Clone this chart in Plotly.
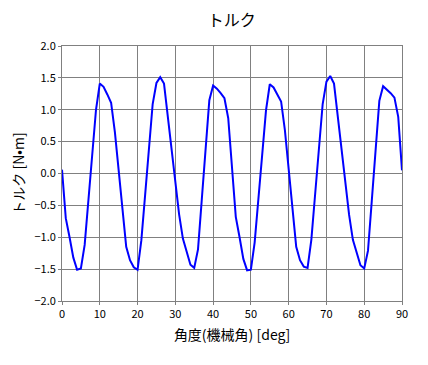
import plotly.graph_objects as go

angle_deg = list(range(0, 91))
torque = [
    0.06, -0.70, -1.00, -1.32, -1.51, -1.49, -1.12, -0.42, 0.29, 1.00,
    1.41, 1.36, 1.24, 1.11, 0.65, 0.05, -0.56, -1.15, -1.36, -1.47,
    -1.51, -1.05, -0.34, 0.37, 1.09, 1.42, 1.51, 1.41, 0.92, 0.40,
    -0.12, -0.64, -1.02, -1.23, -1.43, -1.48, -1.19, -0.41, 0.37, 1.15,
    1.38, 1.33, 1.26, 1.18, 0.87, 0.08, -0.68, -1.00, -1.34, -1.52,
    -1.51, -1.08, -0.39, 0.30, 0.99, 1.40, 1.35, 1.24, 1.13, 0.68,
    0.08, -0.55, -1.15, -1.36, -1.46, -1.48, -1.04, -0.33, 0.38, 1.09,
    1.44, 1.53, 1.41, 0.90, 0.38, -0.14, -0.65, -1.04, -1.24, -1.44,
    -1.49, -1.21, -0.43, 0.36, 1.14, 1.37, 1.32, 1.26, 1.19, 0.89,
    0.05,
]
x_ticks = [0, 10, 20, 30, 40, 50, 60, 70, 80, 90]
y_ticks = [-2.0, -1.5, -1.0, -0.5, 0.0, 0.5, 1.0, 1.5, 2.0]
y_tick_labels = ["\u22122.0", "\u22121.5", "\u22121.0", "\u22120.5", "0.0", "0.5", "1.0", "1.5", "2.0"]

FONT = "Noto Sans CJK JP"
GRID = "#808080"

# page body has an 8px default margin, so the figure is 8px smaller
W, H = 420, 357

fig = go.Figure()
fig.add_trace(go.Scatter(
    x=angle_deg, y=torque, mode="lines",
    line=dict(color="#0000FF", width=2),
    showlegend=False,
))

fig.update_layout(
    width=W, height=H,
    margin=dict(l=54, r=26, t=38, b=64),
    paper_bgcolor="white", plot_bgcolor="white",
    font=dict(family=FONT, color="black", size=11),
    title=dict(text="トルク", x=223.7 / W, xanchor="center",
               y=1 - 12 / H, yanchor="middle", yref="container",
               font=dict(size=16, family=FONT, color="black")),
)
fig.update_xaxes(
    range=[0, 90], tickvals=x_ticks, ticktext=[str(v) for v in x_ticks],
    automargin=False,
    showgrid=True, gridcolor=GRID, gridwidth=1,
    showline=True, linecolor=GRID, linewidth=1, mirror=True,
    ticks="outside", ticklen=3, tickcolor=GRID,
    zeroline=False,
    tickfont=dict(size=11, family=FONT, color="black"),
    title=dict(text="角度(機械角) [deg]", font=dict(size=14, family=FONT, color="black"), standoff=9),
)
fig.update_yaxes(
    range=[-2.0, 2.0], tickvals=y_ticks, ticktext=y_tick_labels,
    automargin=False,
    showgrid=True, gridcolor=GRID, gridwidth=1,
    showline=True, linecolor=GRID, linewidth=1, mirror=True,
    ticks="outside", ticklen=3, tickcolor=GRID,
    zeroline=False,
    tickfont=dict(size=11, family=FONT, color="black"),
    title=dict(text="トルク [N•m]", font=dict(size=14, family=FONT, color="black"), standoff=12),
)

fig.write_html("out.html")
